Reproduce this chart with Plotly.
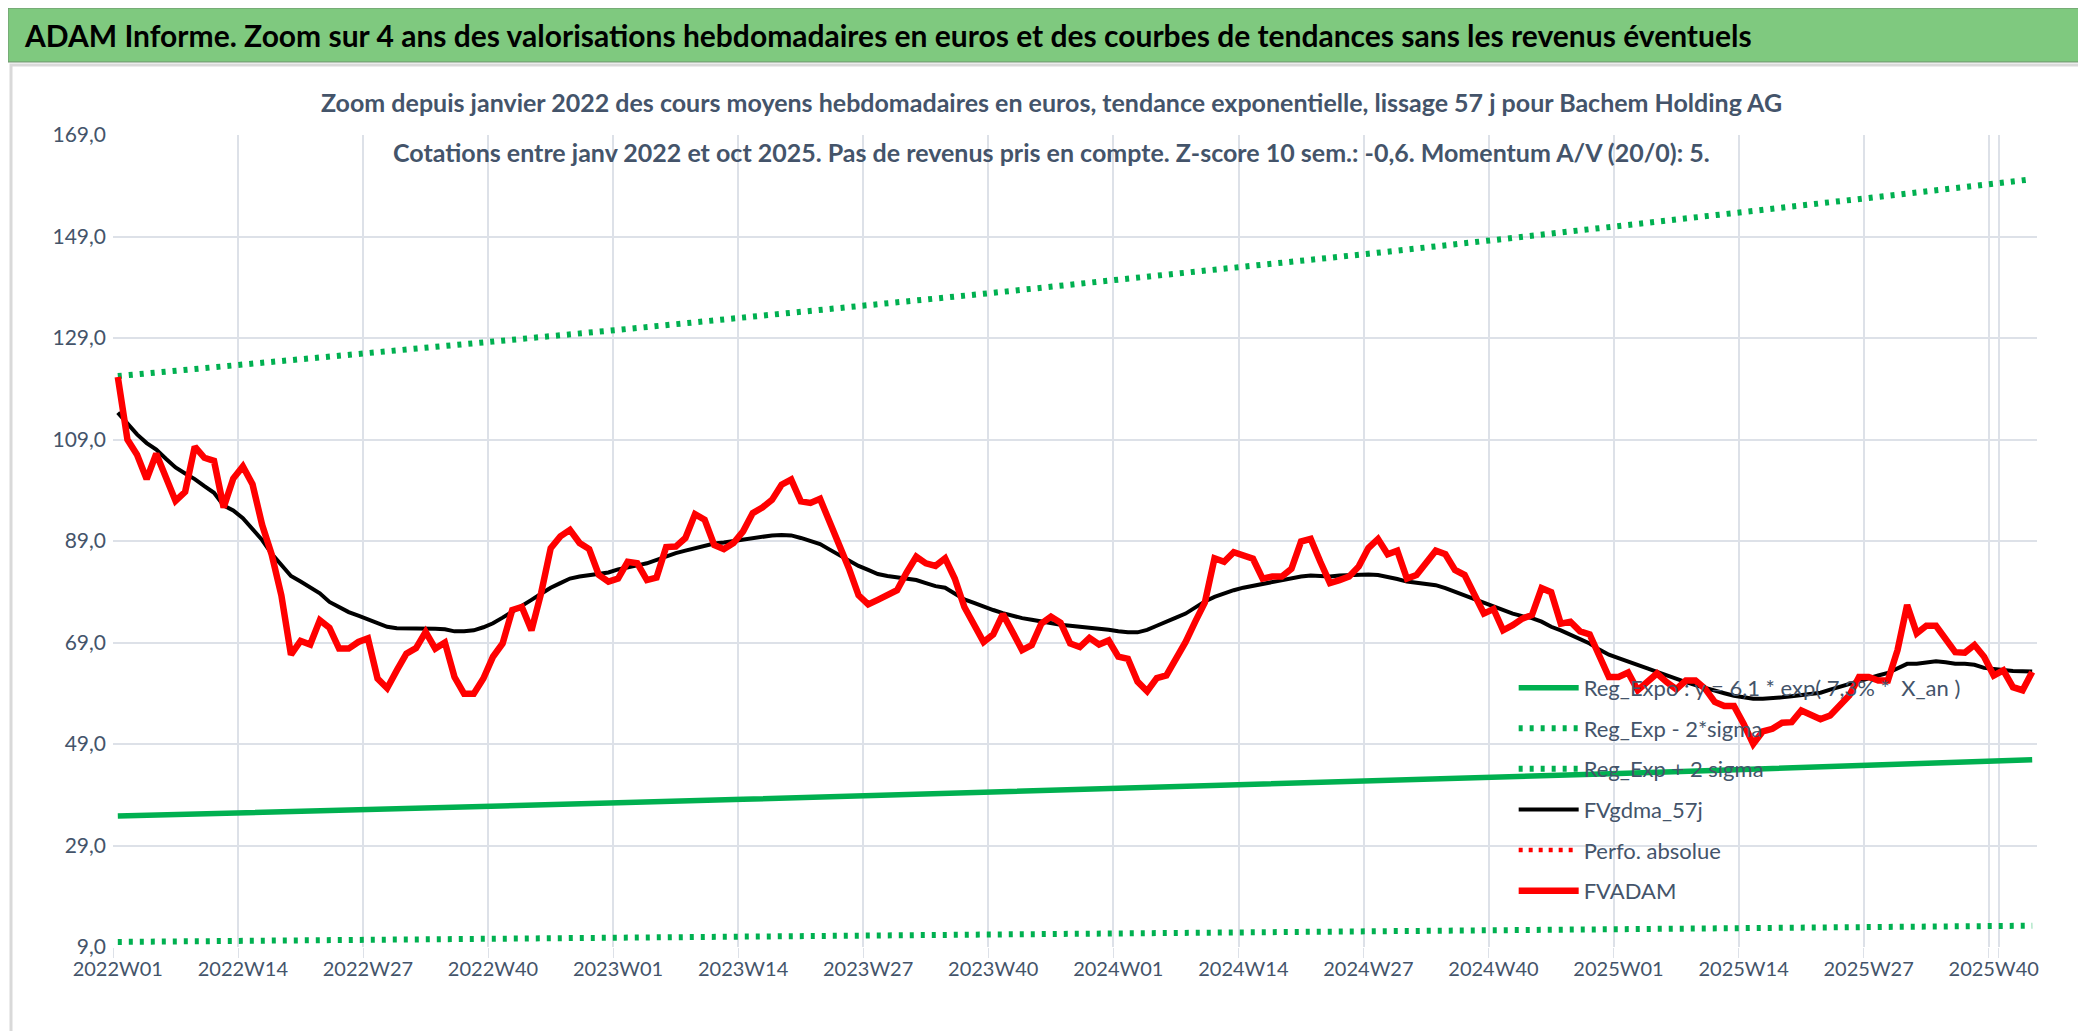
import plotly.graph_objects as go

# semaines 2022W01 .. 2025W44
weeks = []
for year, n in [(2022, 52), (2023, 52), (2024, 52), (2025, 44)]:
    for w in range(1, n + 1):
        weeks.append(f"{year}W{w:02d}")

tick_weeks = [w for w in weeks if w[-2:] in ("01", "14", "27", "40")]

# cours moyens hebdomadaires (FVADAM)
fvadam = [
    121.3, 109.0, 106.0, 101.2, 106.2, 101.4, 96.9, 98.7, 107.6, 105.4,
    104.8, 95.6, 101.3, 103.7, 100.2, 92.2, 86.3, 78.3, 66.6, 69.3,
    68.6, 73.4, 71.9, 67.8, 67.8, 69.1, 69.8, 61.9, 60.0, 63.5,
    66.8, 67.9, 71.1, 67.8, 69.0, 62.2, 58.9, 58.9, 61.9, 66.2,
    68.8, 75.4, 76.0, 71.4, 78.7, 87.6, 89.9, 91.2, 88.6, 87.4,
    82.3, 81.0,
    81.6, 84.9, 84.6, 81.3, 81.8, 87.8, 87.9, 89.6, 94.3, 93.2,
    88.2, 87.4, 88.6, 90.9, 94.5, 95.6, 97.1, 100.1, 101.1, 96.8,
    96.5, 97.3, 92.8, 88.2, 83.6, 78.3, 76.5, 77.4, 78.2, 79.3,
    82.8, 85.9, 84.6, 84.1, 85.6, 81.6, 76.0, 72.4, 69.1, 70.6,
    74.6, 71.1, 67.5, 68.5, 72.7, 74.1, 72.9, 68.8, 68.1, 69.9,
    68.6, 69.4,
    66.2, 65.8, 61.3, 59.4, 62.0, 62.5, 65.5, 69.1, 73.1, 76.9,
    85.6, 84.9, 86.8, 86.3, 85.5, 81.6, 82.0, 82.0, 83.5, 88.9,
    89.4, 84.9, 80.7, 81.3, 82.0, 84.0, 87.6, 89.4, 86.4, 87.1,
    81.6, 82.3, 84.9, 87.1, 86.4, 83.3, 82.3, 78.7, 74.7, 75.6,
    71.4, 72.4, 73.7, 74.4, 79.7, 78.9, 72.7, 73.1, 71.2, 70.6,
    66.2, 62.2,
    62.2, 63.1, 59.6, 61.2, 62.9, 61.2, 59.8, 61.5, 61.5, 59.9,
    57.3, 56.5, 56.5, 53.0, 49.0, 51.5, 52.0, 53.2, 53.3, 55.6,
    54.9, 53.9, 54.6, 56.6, 58.6, 62.2, 62.2, 61.5, 61.5, 67.5,
    76.4, 70.8, 72.3, 72.3, 69.8, 67.1, 67.0, 68.5, 66.2, 62.5,
    63.5, 60.2, 59.6, 63.2,
]

# lissage 57 j (FVgdma_57j)
fvgdma = [
    114.3, 112.0, 110.0, 108.3, 107.0, 105.2, 103.5, 102.3, 101.2, 99.8,
    98.5, 96.0, 95.0, 93.5, 91.4, 89.2, 86.5, 84.3, 82.1, 81.0,
    79.8, 78.7, 77.0, 76.0, 75.0, 74.3, 73.6, 72.8, 72.1, 71.8,
    71.8, 71.8, 71.8, 71.7, 71.6, 71.2, 71.2, 71.4, 72.0, 72.8,
    73.9, 75.0, 76.1, 77.4, 78.6, 79.8, 80.7, 81.6, 82.0, 82.3,
    82.6, 82.8,
    83.4, 83.9, 84.2, 84.6, 85.3, 86.0, 86.6, 87.1, 87.6, 88.2,
    88.5, 88.7, 89.0, 89.4, 89.7, 90.0, 90.1, 90.2, 90.1, 89.6,
    89.0, 88.4, 87.3, 86.2, 85.2, 84.1, 83.3, 82.5, 82.1, 81.8,
    81.5, 81.3, 80.7, 80.1, 79.8, 78.6, 77.5, 76.8, 76.0, 75.4,
    74.8, 74.2, 73.8, 73.5, 73.1, 72.8, 72.5, 72.3, 72.1, 71.9,
    71.8, 71.5,
    71.2, 71.0, 71.0, 71.5, 72.3, 73.0, 73.9, 74.7, 76.0, 77.1,
    78.0, 78.7, 79.3, 79.8, 80.2, 80.6, 81.0, 81.2, 81.6, 82.0,
    82.2, 82.1, 82.0, 82.2, 82.3, 82.4, 82.4, 82.3, 82.0, 81.5,
    81.0, 80.8, 80.6, 80.3, 79.7, 79.0, 78.3, 77.5, 76.7, 76.0,
    75.3, 74.7, 74.2, 73.8, 73.1, 72.1, 71.4, 70.6, 69.8, 68.8,
    67.6, 66.6,
    65.9, 65.3, 64.6, 63.9, 63.2, 62.5, 61.7, 61.2, 60.6, 60.0,
    59.6, 59.0, 58.5, 58.1, 57.9, 57.9, 58.0, 58.2, 58.4, 58.6,
    58.8, 59.1, 59.7, 60.3, 60.9, 61.5, 62.0, 62.5, 63.0, 63.9,
    64.8, 64.8, 65.0, 65.3, 65.1, 64.8, 64.8, 64.6, 64.0, 63.7,
    63.6, 63.4, 63.3, 63.3,
]

# tendance exponentielle relevée toutes les 13 semaines + dernière semaine
trend_weeks = [
    "2022W01", "2022W14", "2022W27", "2022W40", "2023W01", "2023W14",
    "2023W27", "2023W40", "2024W01", "2024W14", "2024W27", "2024W40",
    "2025W01", "2025W14", "2025W27", "2025W40", "2025W44",
]
reg_expo = [34.8, 35.4, 36.1, 36.7, 37.4, 38.1, 38.8, 39.5, 40.2,
            41.0, 41.7, 42.5, 43.2, 44.0, 44.8, 45.7, 45.9]
reg_moins = [10.0, 10.2, 10.4, 10.6, 10.7, 10.9, 11.2, 11.4, 11.6,
             11.8, 12.0, 12.2, 12.4, 12.7, 12.9, 13.1, 13.2]
reg_plus = [121.5, 123.7, 126.0, 128.3, 130.6, 133.0, 135.5, 137.9, 140.5,
            143.0, 145.6, 148.3, 151.0, 153.8, 156.6, 159.4, 160.3]
# série sans valeurs visibles
perfo_weeks = ["2022W01"]
perfo_absolue = [None]

y_ticks = [9, 29, 49, 69, 89, 109, 129, 149, 169]
y_labels = [f"{v},0" for v in y_ticks]

FONT = "Lato, Roboto, sans-serif"
TXT = "#44546A"
GREEN = "#00B050"
GRID = "#DDE1E8"

fig = go.Figure()
fig.add_trace(go.Scatter(x=trend_weeks, y=reg_expo, mode="lines",
                         name="Reg_Expo : y = 6,1 * exp( 7,3% *  X_an )",
                         legendgroup="a",
                         line=dict(color=GREEN, width=5.5)))
fig.add_trace(go.Scatter(x=trend_weeks, y=reg_moins, mode="lines",
                         name="Reg_Exp - 2*sigma", legendgroup="b",
                         line=dict(color=GREEN, width=6, dash="4px,7px")))
fig.add_trace(go.Scatter(x=trend_weeks, y=reg_plus, mode="lines",
                         name="Reg_Exp + 2 sigma", legendgroup="c",
                         line=dict(color=GREEN, width=6, dash="4px,7px")))
fig.add_trace(go.Scatter(x=weeks, y=fvgdma, mode="lines", name="FVgdma_57j",
                         legendgroup="d",
                         line=dict(color="black", width=4)))
fig.add_trace(go.Scatter(x=perfo_weeks, y=perfo_absolue, mode="lines",
                         name="Perfo. absolue", legendgroup="e",
                         line=dict(color="red", width=4.5, dash="4px,6px")))
fig.add_trace(go.Scatter(x=weeks, y=fvadam, mode="lines", name="FVADAM",
                         legendgroup="f",
                         line=dict(color="#FF0000", width=6.5)))

fig.update_layout(
    width=2086, height=1031,
    margin=dict(l=105, r=57, t=127, b=92),
    paper_bgcolor="white", plot_bgcolor="white",
    font=dict(family=FONT, color=TXT, size=20),
    showlegend=True,
    legend=dict(x=0.728, y=0.345, xanchor="left", yanchor="top",
                bgcolor="rgba(0,0,0,0)", font=dict(size=22, color=TXT),
                itemwidth=60, traceorder="grouped", tracegroupgap=9),
    xaxis=dict(type="category", categoryorder="array", categoryarray=weeks,
               range=[-0.5, len(weeks) - 0.5],
               tickmode="array", tickvals=tick_weeks, ticktext=tick_weeks,
               tickson="boundaries", ticks="outside", ticklen=10,
               tickcolor=GRID, showgrid=True, gridcolor=GRID,
               gridwidth=2, showline=False, zeroline=False,
               tickfont=dict(size=20, color=TXT), tickangle=0,
               ticklabelstandoff=8),
    yaxis=dict(range=[9, 169], tickmode="array", tickvals=y_ticks,
               ticktext=y_labels, showgrid=True, gridcolor=GRID,
               gridwidth=2, zeroline=False, showline=False,
               tickfont=dict(size=21, color=TXT), ticklabelstandoff=6),
)

W, H = 2086, 1031
L, R, T, B = 105, 2029, 127, 939


def px(x):
    return (x - L) / (R - L)


def py(y):
    return (B - y) / (B - T)


# bandeau vert et cadre
fig.add_shape(type="rect", xref="paper", yref="paper",
              x0=px(0), x1=px(W), y0=py(54), y1=py(0),
              fillcolor="#7FC97F", line=dict(color="#6E8F6E", width=1),
              layer="above")
fig.add_shape(type="rect", xref="paper", yref="paper",
              x0=px(3), x1=px(2079), y0=py(1025), y1=py(57),
              line=dict(color="#D9D9D9", width=3), layer="below")
# fond blanc du titre du graphique
fig.add_shape(type="rect", xref="paper", yref="paper",
              x0=px(293), x1=px(1785), y0=py(170), y1=py(72),
              fillcolor="white", line=dict(width=0), layer="between")

fig.add_annotation(xref="paper", yref="paper", x=px(14), y=py(27),
                   xanchor="left", yanchor="middle", showarrow=False,
                   text="<b>ADAM Informe. Zoom sur 4 ans des valorisations hebdomadaires "
                        "en euros et des courbes de tendances sans les revenus éventuels</b>",
                   font=dict(size=30, color="black", family=FONT))
fig.add_annotation(xref="paper", yref="paper", x=px(1043), y=py(94),
                   xanchor="center", yanchor="middle", showarrow=False,
                   text="<b>Zoom depuis janvier 2022 des cours moyens hebdomadaires en euros, "
                        "tendance exponentielle, lissage 57 j pour Bachem Holding AG</b>",
                   font=dict(size=25, color=TXT, family=FONT))
fig.add_annotation(xref="paper", yref="paper", x=px(1043), y=py(144),
                   xanchor="center", yanchor="middle", showarrow=False,
                   text="<b>Cotations entre janv 2022 et oct 2025. Pas de revenus pris en compte. "
                        "Z-score 10 sem.: -0,6. Momentum A/V (20/0): 5.</b>",
                   font=dict(size=25, color=TXT, family=FONT))

fig.write_html("out.html")
